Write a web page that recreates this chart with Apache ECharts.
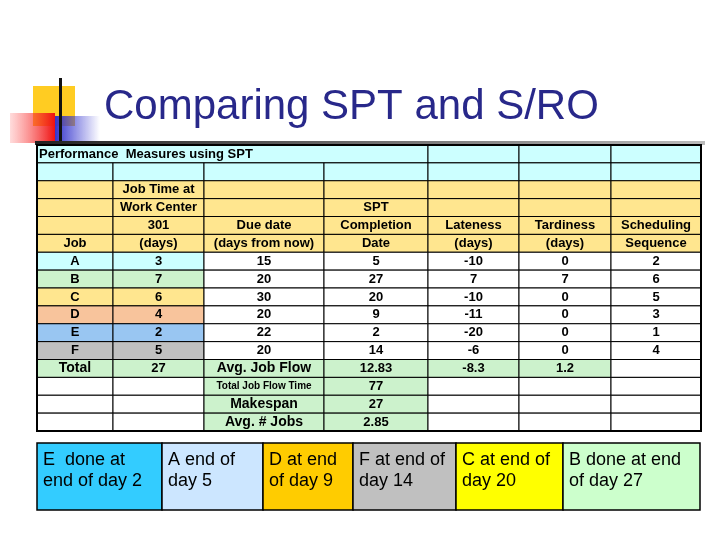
<!DOCTYPE html>
<html><head><meta charset="utf-8">
<script src="https://cdn.jsdelivr.net/npm/echarts@6/dist/echarts.min.js"></script>
<style>html,body{margin:0;padding:0;background:#fff}#c{width:720px;height:540px}</style>
</head><body><div id="c"></div>
<script>
var jobs = ['A','B','C','D','E','F'];
var jobTime = [3,7,6,4,2,5];
var dueDate = [15,20,30,20,22,20];
var completion = [5,27,20,9,2,14];
var lateness = [-10,7,-10,-11,-20,-6];
var tardiness = [0,7,0,0,0,0];
var sequence = [2,6,5,3,1,4];
var totals = {jobTime:27, avgFlow:'12.83', avgLate:'-8.3', avgTardy:'1.2', totalFlow:77, makespan:27, avgJobs:'2.85'};
var notes = ['E  done at\nend of day 2','A end of\nday 5','D at end\nof day 9','F at end of\nday 14','C at end of\nday 20','B done at end\nof day 27'];

var CY='#ccffff', YE='#ffe68f', GR='#ccf2cc', WH='#ffffff';
var jobColors = ['#ccffff','#ccf2cc','#ffe68f','#f8c49c','#99c6f2','#c0c0c0'];
var noteColors = ['#33ccff','#cce6ff','#ffcc00','#c0c0c0','#ffff00','#ccffcc'];
var noteWidths = [125,101,90,103,107,137];

var cells = [];
function cell(c0,c1,r,t,bg,opt){opt=opt||{};cells.push([c0,c1,r,String(t),bg,opt.left?1:0,opt.fs||13]);}
cell(0,4,0,'Performance  Measures using SPT',CY,{left:1});
for(var c=4;c<7;c++)cell(c,c+1,0,'',CY);
for(c=0;c<7;c++)cell(c,c+1,1,'',CY);
var hdr=[['','Job Time at','','','','',''],['','Work Center','','SPT','','',''],['','301','Due date','Completion','Lateness','Tardiness','Scheduling'],['Job','(days)','(days from now)','Date','(days)','(days)','Sequence']];
hdr.forEach(function(h,i){for(var c=0;c<7;c++)cell(c,c+1,2+i,h[c],YE);});
jobs.forEach(function(j,i){var r=6+i;
 cell(0,1,r,j,jobColors[i]);cell(1,2,r,jobTime[i],jobColors[i]);
 cell(2,3,r,dueDate[i],WH);cell(3,4,r,completion[i],WH);cell(4,5,r,lateness[i],WH);
 cell(5,6,r,tardiness[i],WH);cell(6,7,r,sequence[i],WH);});
cell(0,1,12,'Total',GR,{fs:14});cell(1,2,12,totals.jobTime,GR);cell(2,3,12,'Avg. Job Flow',GR,{fs:14});
cell(3,4,12,totals.avgFlow,GR);cell(4,5,12,totals.avgLate,GR);cell(5,6,12,totals.avgTardy,GR);cell(6,7,12,'',WH);
var lower=[['Total Job Flow Time',totals.totalFlow,10],['Makespan',totals.makespan,14],['Avg. # Jobs',totals.avgJobs,14]];
lower.forEach(function(l,i){var r=13+i;cell(0,1,r,'',WH);cell(1,2,r,'',WH);cell(2,3,r,l[0],GR,{fs:l[2]});
 cell(3,4,r,l[1],GR);for(var c=4;c<7;c++)cell(c,c+1,r,'',WH);});

var colEdges=[0,76,167,287,391,482,574,664];
var noteEdges=[0];noteWidths.forEach(function(w,i){noteEdges.push(noteEdges[i]+w);});
var noteData=notes.map(function(n,i){return [noteEdges[i],noteEdges[i+1],n,noteColors[i]];});

var chart=echarts.init(document.getElementById('c'));
chart.setOption({
 animation:false,
 title:{text:'Comparing SPT and S/RO',left:99,top:81,textStyle:{fontFamily:'Liberation Sans',fontSize:42,fontWeight:'normal',color:'#28288a'}},
 graphic:[
  {type:'rect',shape:{x:33,y:86,width:42,height:40},style:{fill:'#ffcc22'},z:-1},
  {type:'rect',shape:{x:55,y:116,width:45,height:26},style:{fill:new echarts.graphic.LinearGradient(0,0,1,0,[{offset:0,color:'#3333cc'},{offset:1,color:'rgba(60,60,210,0)'}])},z:-1},
  {type:'rect',shape:{x:10,y:113,width:45,height:30},style:{fill:new echarts.graphic.LinearGradient(0,0,1,0,[{offset:0,color:'rgba(255,80,80,0.2)'},{offset:1,color:'#ee1111'}])},z:-1},
  {type:'rect',shape:{x:59,y:78,width:3,height:70},style:{fill:'#111'}},
  {type:'rect',shape:{x:35,y:141,width:670,height:4},style:{fill:new echarts.graphic.LinearGradient(0,0,1,0,[{offset:0,color:'#222'},{offset:1,color:'#bbbbbb'}])}}
 ],
 grid:[{left:37,right:19,top:145,bottom:109},{left:37,right:20,top:443,bottom:30}],
 xAxis:[{type:'value',min:0,max:664,show:false,gridIndex:0},{type:'value',min:0,max:663,show:false,gridIndex:1}],
 yAxis:[{type:'value',min:0,max:16,inverse:true,show:false,gridIndex:0},{type:'value',min:0,max:1,inverse:true,show:false,gridIndex:1}],
 series:[
  {type:'custom',xAxisIndex:0,yAxisIndex:0,data:cells,
   renderItem:function(p,api){
    var c0=api.value(0),c1=api.value(1),r=api.value(2);
    var a=api.coord([colEdges[c0],r]),b=api.coord([colEdges[c1],r+1]);
    var left=api.value(5)===1; var t=cells[p.dataIndex][3];
    return {type:'group',children:[
     {type:'rect',shape:{x:a[0],y:a[1],width:b[0]-a[0],height:b[1]-a[1]},style:{fill:cells[p.dataIndex][4],stroke:'#000',lineWidth:1}},
     {type:'text',style:{text:t,x:left?a[0]+2:(a[0]+b[0])/2,y:(a[1]+b[1])/2,align:left?'left':'center',verticalAlign:'middle',
       font:'bold '+cells[p.dataIndex][6]+'px "Liberation Sans", Arial, sans-serif',fill:'#000'}}]};
   }},
  {type:'custom',xAxisIndex:0,yAxisIndex:0,data:[[0]],silent:true,z:3,
   renderItem:function(p,api){var a=api.coord([0,0]),b=api.coord([664,16]);
    return {type:'rect',shape:{x:a[0],y:a[1],width:b[0]-a[0],height:b[1]-a[1]},style:{fill:'none',stroke:'#000',lineWidth:2}};}},
  {type:'custom',xAxisIndex:1,yAxisIndex:1,data:noteData,
   renderItem:function(p,api){var d=noteData[p.dataIndex];
    var a=api.coord([d[0],0]),b=api.coord([d[1],1]);
    return {type:'group',children:[
     {type:'rect',shape:{x:a[0],y:a[1],width:b[0]-a[0],height:b[1]-a[1]},style:{fill:d[3],stroke:'#000',lineWidth:1.5}},
     {type:'text',style:{text:d[2],x:a[0]+6,y:a[1]+7,align:'left',verticalAlign:'top',lineHeight:21,
       font:'18px "Liberation Sans", Arial, sans-serif',fill:'#000'}}]};
   }}
 ]
});
</script></body></html>
